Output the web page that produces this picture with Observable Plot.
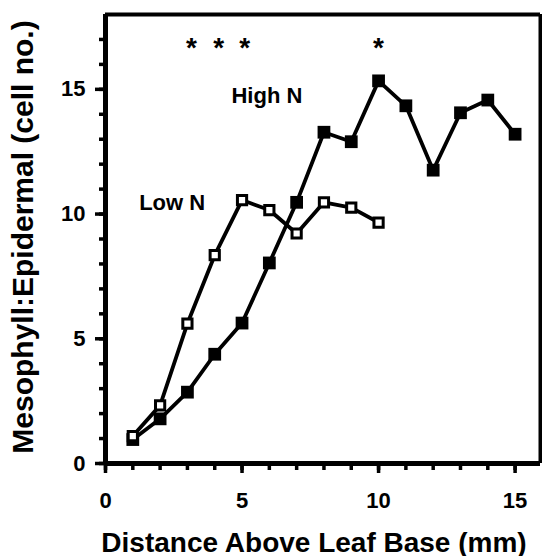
<!DOCTYPE html>
<html><head><meta charset="utf-8">
<script src="https://cdn.jsdelivr.net/npm/d3@7"></script>
<script src="https://cdn.jsdelivr.net/npm/@observablehq/plot@0.6"></script>
<style>body{margin:0;background:#fff;}</style>
</head><body><div id="chart"></div>
<script>
// Data
const highDistance = [1, 2, 3, 4, 5, 6, 7, 8, 9, 10, 11, 12, 13, 14, 15];
const highN = [0.96, 1.79, 2.86, 4.38, 5.63, 8.04, 10.47, 13.28, 12.9, 15.34, 14.34, 11.76, 14.06, 14.57, 13.2];
const lowDistance = [1, 2, 3, 4, 5, 6, 7, 8, 9, 10];
const lowN = [1.1, 2.33, 5.61, 8.35, 10.56, 10.16, 9.22, 10.47, 10.26, 9.66];
const starDistance = [3.15, 4.15, 5.1, 10];
const starLevel = 16.91;
const seriesLabels = ["High N", "Low N"];
const labelDistance = [5.91, 2.44];
const labelLevel = [14.44, 10.16];
const xMajorTicks = [0, 5, 10, 15];
const xMinorTicks = [0, 1, 2, 3, 4, 5, 6, 7, 8, 9, 10, 11, 12, 13, 14, 15];
const yMajorTicks = [0, 5, 10, 15];
const yMinorTicks = [0, 1, 2, 3, 4, 5, 6, 7, 8, 9, 10, 11, 12, 13, 14, 15, 16, 17];
const xDomain = [0, 15.93];
const yDomain = [0, 18];
const xTitle = "Distance Above Leaf Base (mm)";
const yTitle = "Mesophyll:Epidermal (cell no.)";

const high = highDistance.map((d, i) => ({x: d, y: highN[i]}));
const low = lowDistance.map((d, i) => ({x: d, y: lowN[i]}));
const stars = starDistance.map(d => ({x: d, y: starLevel}));
const labels = seriesLabels.map((t, i) => ({t, x: labelDistance[i], y: labelLevel[i]}));

const chart = Plot.plot({
  width: 542, height: 556,
  marginLeft: 105, marginRight: 2, marginTop: 14, marginBottom: 93,
  style: {fontFamily: "'Liberation Sans', Arial, sans-serif", fontSize: "22px", color: "#000", background: "#fff"},
  x: {domain: xDomain},
  y: {domain: yDomain},
  marks: [
    Plot.axisX(xMinorTicks, {tickSize: 7, strokeWidth: 3.5, stroke: "#000", tickFormat: () => "", label: null}),
    Plot.axisX(xMajorTicks, {tickSize: 10, strokeWidth: 3.5, stroke: "#000", tickPadding: 19, label: null, fontSize: 22, fontWeight: "bold"}),
    Plot.axisY(yMinorTicks, {tickSize: 6, strokeWidth: 3.5, stroke: "#000", tickFormat: () => "", label: null}),
    Plot.axisY(yMajorTicks, {tickSize: 10, strokeWidth: 3.5, stroke: "#000", tickPadding: 10, label: null, fontSize: 22, fontWeight: "bold"}),
    Plot.ruleX([xDomain[0]], {stroke: "#000", strokeWidth: 5}),
    Plot.ruleX([xDomain[1]], {stroke: "#000", strokeWidth: 4}),
    Plot.ruleY([yDomain[0]], {stroke: "#000", strokeWidth: 5}),
    Plot.ruleY([yDomain[1]], {stroke: "#000", strokeWidth: 4}),
    Plot.line(high, {x: "x", y: "y", stroke: "#000", strokeWidth: 3.8}),
    Plot.line(low, {x: "x", y: "y", stroke: "#000", strokeWidth: 3.8}),
    Plot.dot(high, {x: "x", y: "y", symbol: "square", r: 7.2, fill: "#000", stroke: "none"}),
    Plot.dot(low, {x: "x", y: "y", symbol: "square", r: 5.2, fill: "#fff", stroke: "#000", strokeWidth: 3}),
    Plot.text(stars, {x: "x", y: "y", text: () => "*", fontSize: 28, fontWeight: "bold", lineAnchor: "middle", dy: 6}),
    Plot.text(labels, {x: "x", y: "y", text: "t", fontSize: 22, fontWeight: "bold", lineAnchor: "bottom"}),
    Plot.text([xTitle], {frameAnchor: "bottom", text: d => d, fontSize: 28, fontWeight: "bold", textAnchor: "middle", lineAnchor: "bottom", dx: -9, dy: 88}),
    Plot.text([yTitle], {frameAnchor: "left", text: d => d, fontSize: 30, fontWeight: "bold", textAnchor: "middle", lineAnchor: "bottom", rotate: -90, dx: -73, dy: -2})
  ]
});
document.getElementById("chart").appendChild(chart);
</script>
</body></html>
